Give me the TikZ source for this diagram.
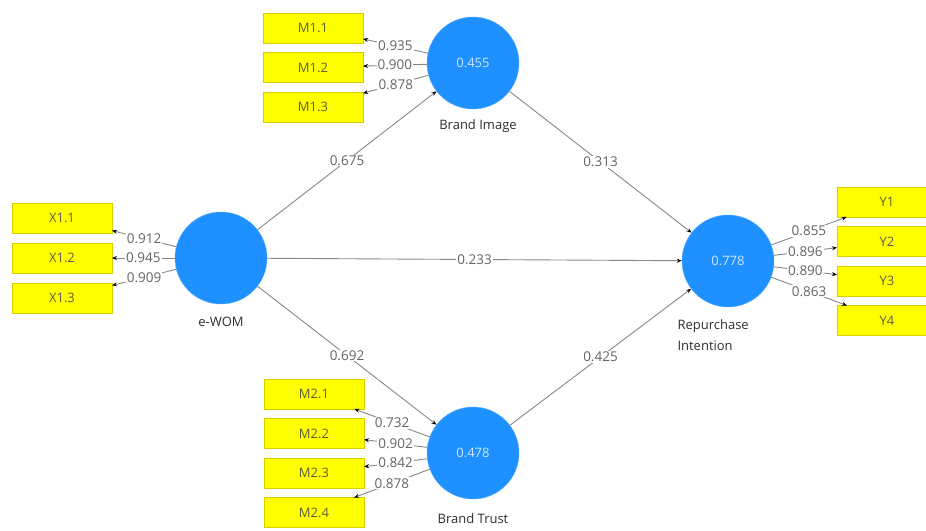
\documentclass[tikz,border=0pt]{standalone}
\usepackage{fontspec}
\setsansfont{Open Sans}
\usetikzlibrary{positioning,arrows.meta}

\definecolor{lvblue}{RGB}{30,144,255}
\definecolor{lvtext}{RGB}{205,232,255}
\definecolor{indyel}{RGB}{255,255,0}
\definecolor{indline}{RGB}{215,205,0}
\definecolor{indtext}{RGB}{95,95,55}
\definecolor{linegray}{RGB}{135,135,135}
\definecolor{numgray}{RGB}{100,100,100}
\definecolor{namegray}{RGB}{45,45,45}

\tikzset{
  latent/.style={circle,fill=lvblue,draw=lvblue!75!white,minimum size=92pt,inner sep=0pt,
    text=lvtext,font=\sffamily\fontsize{13}{15}\selectfont},
  indic/.style={rectangle,fill=indyel,draw=indline,minimum width=100pt,minimum height=30pt,
    inner sep=0pt,outer sep=0pt,text=indtext,font=\sffamily\fontsize{13}{15}\selectfont},
  load/.style={draw=linegray,line width=0.9pt,-{Stealth[length=5pt,width=4pt,black]}},
  coef/.style={fill=white,inner sep=1pt,text=numgray,font=\sffamily\fontsize{13.5}{15}\selectfont},
  lvname/.style={text=namegray,font=\sffamily\fontsize{13}{21}\selectfont}
}

\begin{document}
\begin{tikzpicture}[x=1pt,y=-1pt]
  \useasboundingbox (0,0) rectangle (926,530);
  % latent variables
  \node[latent] (ewom) at (221,258) {};
  \node[latent] (bi) at (473,63) {0.455};
  \node[latent] (bt) at (473,453) {0.478};
  \node[latent] (ri) at (728,261) {0.778};
  \node[lvname] (ewomlab) [below=9pt of ewom] {e-WOM};
  \node[lvname] (bilab) [below=7pt of bi,xshift=5pt] {Brand Image};
  \node[lvname] (btlab) [below=11pt of bt] {Brand Trust};
  \node[lvname,align=left,anchor=north west] (rilab) at (674,316) {Repurchase\\Intention};
  % indicators of e-WOM
  \node[indic] (x11) at (62,218) {X1.1};
  \node[indic] (x12) [below=10pt of x11] {X1.2};
  \node[indic] (x13) [below=10pt of x12] {X1.3};
  % indicators of brand image
  \node[indic] (m11) at (313,28) {M1.1};
  \node[indic] (m12) [below=9.5pt of m11] {M1.2};
  \node[indic] (m13) [below=9.5pt of m12] {M1.3};
  % indicators of brand trust
  \node[indic] (m21) at (314,394) {M2.1};
  \node[indic] (m22) [below=9.5pt of m21] {M2.2};
  \node[indic] (m23) [below=9.5pt of m22] {M2.3};
  \node[indic] (m24) [below=9.5pt of m23] {M2.4};
  % indicators of repurchase intention
  \node[indic] (y1) at (887,202) {Y1};
  \node[indic] (y2) [below=9.5pt of y1] {Y2};
  \node[indic] (y3) [below=9.5pt of y2] {Y3};
  \node[indic] (y4) [below=9.5pt of y3] {Y4};
  % outer loadings
  \draw[load] (ewom) -- node[coef] {0.912} (x11);
  \draw[load] (ewom) -- node[coef] {0.945} (x12);
  \draw[load] (ewom) -- node[coef] {0.909} (x13);
  \draw[load] (bi) -- node[coef] {0.935} (m11);
  \draw[load] (bi) -- node[coef] {0.900} (m12);
  \draw[load] (bi) -- node[coef] {0.878} (m13);
  \draw[load] (bt) -- node[coef] {0.732} (m21);
  \draw[load] (bt) -- node[coef] {0.902} (m22);
  \draw[load] (bt) -- node[coef] {0.842} (m23);
  \draw[load] (bt) -- node[coef] {0.878} (m24);
  \draw[load] (ri) -- node[coef] {0.855} (y1);
  \draw[load] (ri) -- node[coef] {0.896} (y2);
  \draw[load] (ri) -- node[coef] {0.890} (y3);
  \draw[load] (ri) -- node[coef] {0.863} (y4);
  % path coefficients
  \draw[load] (ewom) -- node[coef] {0.675} (bi);
  \draw[load] (ewom) -- node[coef] {0.233} (ri);
  \draw[load] (ewom) -- node[coef] {0.692} (bt);
  \draw[load] (bi) -- node[coef] {0.313} (ri);
  \draw[load] (bt) -- node[coef] {0.425} (ri);
\end{tikzpicture}
\end{document}
